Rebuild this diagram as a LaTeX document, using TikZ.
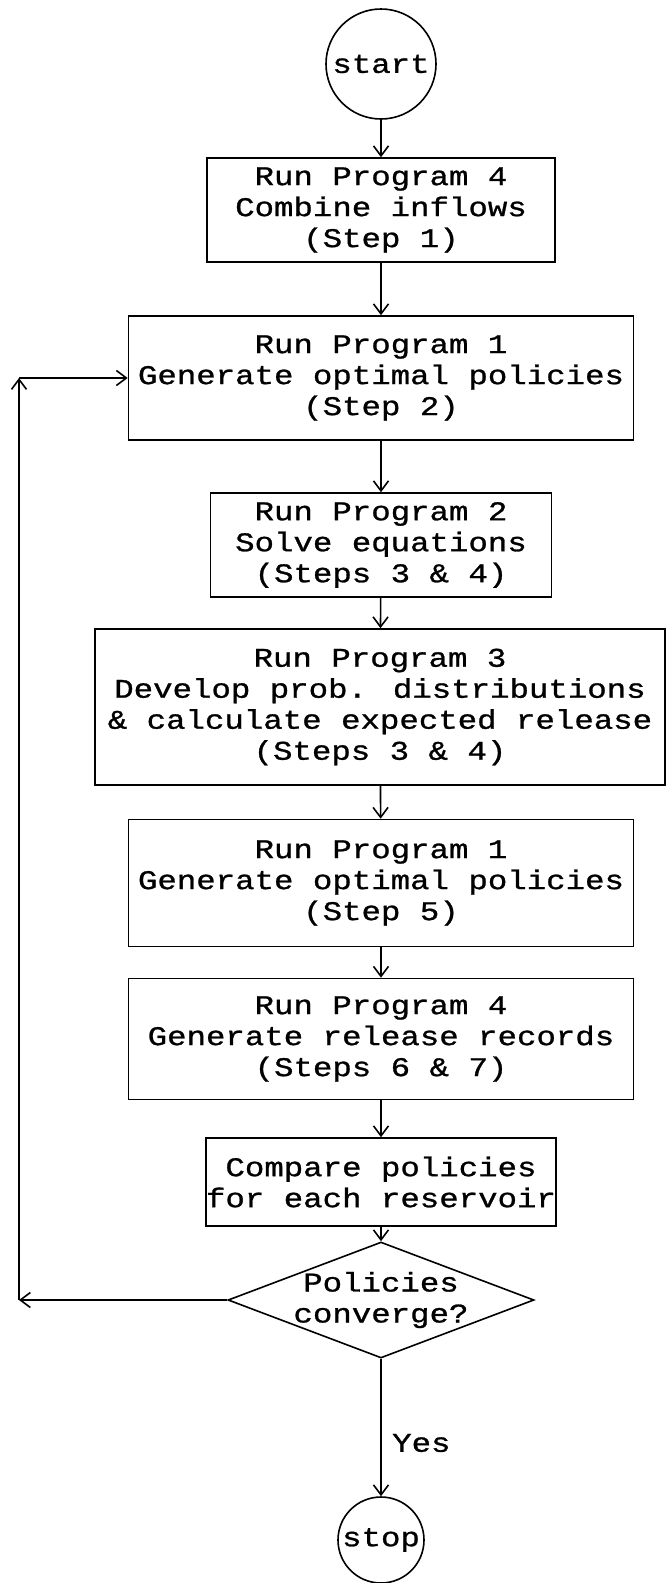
\documentclass[tikz,border=0pt]{standalone}
\usepackage{fontspec}
\newfontfamily\flowfont{Liberation Mono}[FakeStretch=1.2, FakeBold=1]
\usetikzlibrary{arrows.meta, shapes.geometric, positioning}
\newcommand{\boxfont}{\fontsize{27}{31}\selectfont\flowfont}
\tikzset{
  % Flow arrow style
  flarr/.style={
    line width = 1.6pt
    , -{Straight Barb[length=10pt, width=15pt]}
  },
}
\tikzset{
  % program step box
  procbox/.style={
    draw
    , line width=1.6pt
    , inner sep=0pt
    , anchor=center
    , align=center
    , font=\boxfont
  },
}
\tikzset{
  % start / stop terminal
  termnode/.style={
    draw
    , circle
    , line width=1.6pt
    , inner sep=-10pt
    , font=\boxfont
  },
}
\tikzset{
  % convergence test
  testnode/.style={
    draw
    , diamond
    , line width=1.6pt
    , inner sep=-30pt
    , align=center
    , font=\boxfont
  },
}

\begin{document}
\begin{tikzpicture}[x=1pt, y=-1pt]
  \useasboundingbox (0,0) rectangle (666,1583);

  \node[termnode, minimum size=110pt] (start) at (381,64) {start};
  \node[procbox, minimum width=348pt, minimum height=104pt] (comb) at (381,210)
    {Run Program 4\\Combine inflows\\(Step 1)};
  \node[procbox, minimum width=505pt, minimum height=124pt] (gen1) at (381,378)
    {Run Program 1\\Generate optimal policies\\(Step 2)};
  \node[procbox, minimum width=341pt, minimum height=104pt] (solve) at (381,545)
    {Run Program 2\\Solve equations\\(Steps 3 \& 4)};
  \node[procbox, minimum width=570pt, minimum height=156pt] (dist) at (380,707)
    {Run Program 3\\Develop prob. distributions\\\& calculate expected release\\(Steps 3 \& 4)};
  \node[procbox, minimum width=505pt, minimum height=127pt] (gen2) at (381,883)
    {Run Program 1\\Generate optimal policies\\(Step 5)};
  \node[procbox, minimum width=505pt, minimum height=121pt] (rel) at (381,1039)
    {Run Program 4\\Generate release records\\(Steps 6 \& 7)};
  \node[procbox, minimum width=332pt, minimum height=88pt] (cmp) at (381,1182)
    {Compare policies\\for each reservoir};
  \node[testnode, minimum width=306pt, minimum height=116pt] (conv) at (381,1300)
    {Policies\\converge?};
  \node[termnode, minimum size=86pt] (stop) at (381,1540) {stop};
  \node[font=\boxfont, anchor=west, inner sep=0pt] (yes) at (392,1443) {Yes};

  % loop back corners
  \coordinate (lcorner) at (19,1300);
  \coordinate (ucorner) at (lcorner |- gen1.west);

  \draw[flarr] (start) -- (comb);
  \draw[flarr] (comb) -- (gen1);
  \draw[flarr] (gen1) -- (solve);
  \draw[flarr] (solve) -- (dist);
  \draw[flarr] (dist) -- (gen2);
  \draw[flarr] (gen2) -- (rel);
  \draw[flarr] (rel) -- (cmp);
  \draw[flarr] (cmp) -- (conv);
  \draw[flarr] (conv) -- (stop);
  \draw[flarr] (conv.west) -- (lcorner);
  \draw[flarr] (lcorner) -- (ucorner);
  \draw[flarr] (ucorner) -- (gen1.west);
\end{tikzpicture}
\end{document}
